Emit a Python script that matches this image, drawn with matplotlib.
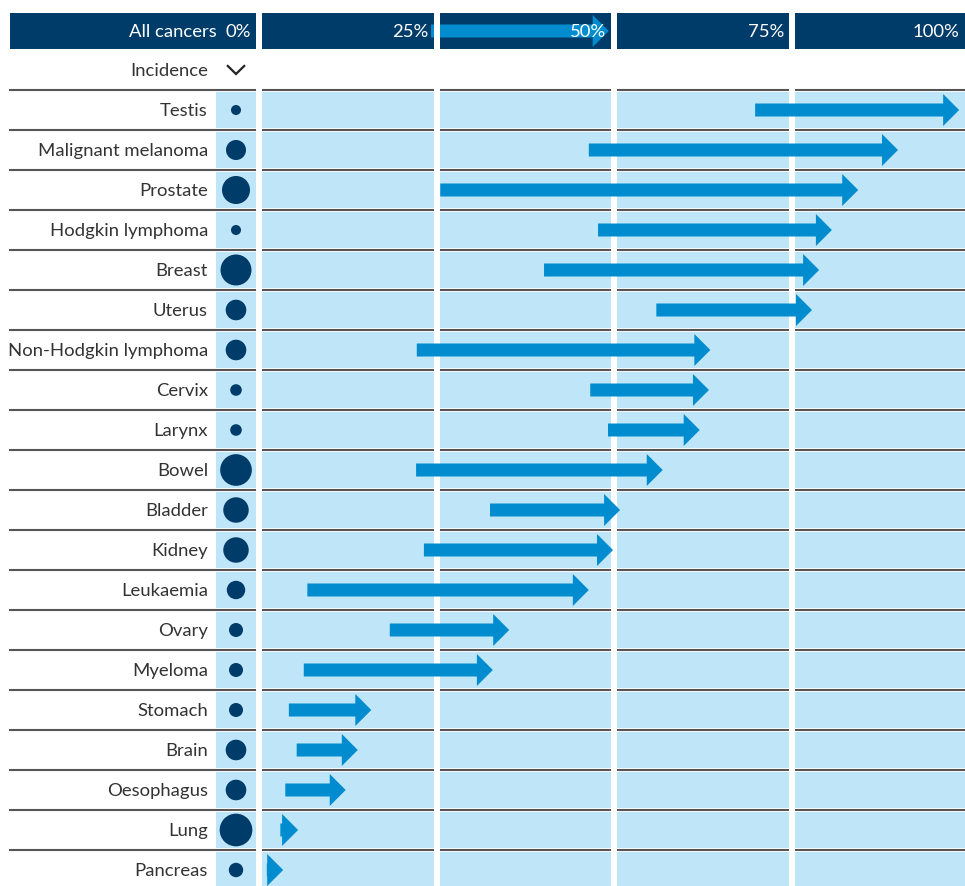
import matplotlib
matplotlib.use("Agg")
import matplotlib.pyplot as plt
import numpy as np

plt.rcParams['font.family'] = ['Lato', 'DejaVu Sans']

# data
cancers = ["Testis", "Malignant melanoma", "Prostate", "Hodgkin lymphoma", "Breast",
           "Uterus", "Non-Hodgkin lymphoma", "Cervix", "Larynx", "Bowel", "Bladder",
           "Kidney", "Leukaemia", "Ovary", "Myeloma", "Stomach", "Brain", "Oesophagus",
           "Lung", "Pancreas"]
# survival (%) arrow start / end
surv_start = [69.8, 46.4, 25.5, 47.7, 40.1, 55.9, 22.2, 46.6, 49.1, 22.1, 32.5,
              23.2, 6.8, 18.4, 6.3, 4.2, 5.3, 3.7, 3.0, 1.1]
surv_end = [98.5, 89.9, 84.3, 80.6, 78.8, 77.8, 63.5, 63.3, 62.0, 56.8, 50.8,
            49.8, 46.4, 35.2, 32.9, 15.8, 13.9, 12.2, 5.5, 3.4]
# relative incidence (thousands of cases)
incidence = [4.6, 18.4, 36, 4.6, 44, 19.5, 19.5, 6.2, 6.2, 46, 29.7, 29.7, 15.6,
             9, 9, 9, 19.5, 19.5, 49, 9.5]
all_start, all_end = 24.2, 49.2
ticks = [0, 25, 50, 75, 100]
tick_labels = ["0%", "25%", "50%", "75%", "100%"]

navy = "#003c6a"
arrow_c = "#008ccf"
light = "#bee6f8"
line_c = "#555555"
text_c = "#333333"

px_per = 177.7 / 25      # pixels per percent
x0_px = 259              # pixel position of 0%


def xp(px):
    return (px - x0_px) / px_per


fig = plt.figure(figsize=(9.65, 8.86), dpi=100)
ax = fig.add_axes([0, 0, 1, 1])
ax.set_xlim(xp(0), xp(965))
ax.set_ylim(886, 0)
ax.axis("off")

gap = 0.42
n = len(cancers)
row_y = 110 + 40 * np.arange(n)
head_y = 31
inc_y = 70
label_x = xp(208)
circle_x = xp(236)
right_edge = xp(975)
fs = 13.3

# header
ax.add_patch(plt.Rectangle((xp(10), head_y - 18), xp(256) - xp(10), 36, color=navy, lw=0, zorder=1))
for q in range(4):
    ax.add_patch(plt.Rectangle((q * 25 + gap, head_y - 18), 25 - 2 * gap, 36, color=navy, lw=0, zorder=1))
ax.text(xp(217), head_y + 0.5, "All cancers", color="white", ha="right", va="center", fontsize=fs, zorder=5)
ax.text(xp(251), head_y + 0.5, tick_labels[0], color="white", ha="right", va="center", fontsize=fs, zorder=5)
for t, lab in zip(ticks[1:], tick_labels[1:]):
    ax.text(t - 1.1 if t < 100 else 98.6, head_y + 0.5, lab, color="white", ha="right", va="center",
            fontsize=fs, zorder=5)
ax.arrow(all_start, head_y, all_end - all_start, 0, width=13, head_width=32, head_length=2.25,
         length_includes_head=True, color=arrow_c, lw=0, zorder=2.2)

# incidence row
ax.text(label_x, inc_y + 1, "Incidence", color=text_c, ha="right", va="center", fontsize=fs)
ax.plot([circle_x - 1.15, circle_x, circle_x + 1.15], [inc_y - 4, inc_y + 4, inc_y - 4],
        color="#222222", lw=1.6, solid_joinstyle="miter")

# row backgrounds and separators
for y in row_y:
    ax.add_patch(plt.Rectangle((xp(216), y - 18), right_edge - xp(216), 36, color=light, lw=0, zorder=1))
    ax.plot([xp(10), right_edge], [y - 20, y - 20], color=line_c, lw=1.5, zorder=2)

# white column gaps
for t in ticks[:4]:
    ax.plot([t, t], [0, 886], color="white", lw=6 * 0.72, zorder=2.5, solid_capstyle="butt")

# arrows
for y, s, e in zip(row_y, surv_start, surv_end):
    ax.arrow(s, y, e - s, 0, width=13, head_width=32, head_length=2.25,
             length_includes_head=True, color=arrow_c, lw=0, zorder=3)

# incidence bubbles
ax.scatter([circle_x] * n, row_y, s=np.array(incidence) * 11.3, color=navy, lw=0, zorder=4)

# labels
for y, name in zip(row_y, cancers):
    ax.text(label_x, y + 1, name, color=text_c, ha="right", va="center", fontsize=fs)

fig.savefig("out.png", dpi=100)
